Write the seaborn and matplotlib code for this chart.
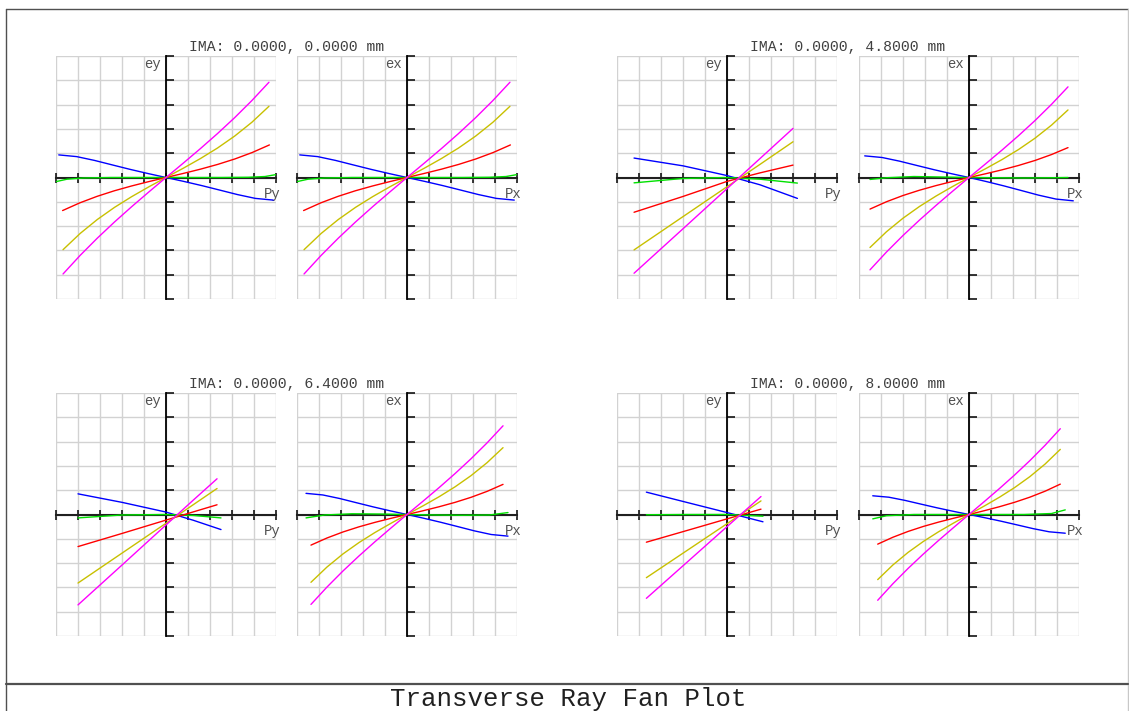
import matplotlib
matplotlib.use("Agg")
import matplotlib.pyplot as plt
import seaborn as sns
import pandas as pd
from matplotlib.lines import Line2D

# ---------------- data (pupil coordinate, ray error in plot divisions) ----------------
WAVES = ["blue", "green", "red", "yellow", "magenta"]
WAVE_COLORS = {"blue": "#0000ff", "green": "#00e000", "red": "#ff0000",
               "yellow": "#c8c000", "magenta": "#ff00ff"}
FIELDS = ["0.0000", "4.8000", "6.4000", "8.0000"]
TAN_AXIS = ("Py", "ey")
SAG_AXIS = ("Px", "ex")
TITLE = "Transverse Ray Fan Plot"

# field 0.0 mm
FAN_T0 = {
    "blue": ([-0.975, -0.8125, -0.65, -0.4875, -0.325, -0.1625, 0, 0.1625, 0.325, 0.4875, 0.65, 0.8125, 0.975],
             [0.93, 0.860, 0.703, 0.517, 0.333, 0.162, 0, -0.162, -0.333, -0.517, -0.703, -0.860, -0.93]),
    "green": ([-1, -0.9, -0.75, -0.5, -0.25, 0, 0.25, 0.5, 0.75, 0.9, 1],
              [-0.17, -0.07, -0.02, 0, 0, 0, 0, 0, 0.01, 0.04, 0.12]),
    "red": ([-0.94, -0.7833, -0.6267, -0.47, -0.3133, -0.1567, 0, 0.1567, 0.3133, 0.47, 0.6267, 0.7833, 0.94],
            [-1.36, -1.043, -0.776, -0.547, -0.349, -0.169, 0, 0.167, 0.343, 0.539, 0.764, 1.028, 1.34]),
    "yellow": ([-0.936, -0.78, -0.624, -0.468, -0.312, -0.156, 0, 0.156, 0.312, 0.468, 0.624, 0.78, 0.936],
               [-2.97, -2.301, -1.727, -1.229, -0.788, -0.384, 0, 0.379, 0.777, 1.212, 1.704, 2.270, 2.93]),
    "magenta": ([-0.936, -0.78, -0.624, -0.468, -0.312, -0.156, 0, 0.156, 0.312, 0.468, 0.624, 0.78, 0.936],
                [-3.97, -3.203, -2.494, -1.830, -1.201, -0.595, 0, 0.587, 1.186, 1.807, 2.462, 3.163, 3.92]),
}
FAN_S0 = FAN_T0  # on axis: sagittal fan equals tangential fan

# field 4.8 mm
FAN_T1 = {
    "blue": ([-0.845, -0.4, 0, 0.3, 0.64], [0.80, 0.48, 0.08, -0.30, -0.86]),
    "green": ([-0.845, -0.4, 0, 0.3, 0.64], [-0.22, -0.04, 0.0, -0.07, -0.23]),
    "red": ([-0.845, -0.4, 0, 0.3, 0.6], [-1.43, -0.78, -0.16, 0.19, 0.51]),
    "yellow": ([-0.845, -0.4, 0, 0.3, 0.6], [-2.98, -1.61, -0.38, 0.54, 1.47]),
    "magenta": ([-0.845, -0.4, 0, 0.3, 0.6], [-3.94, -2.11, -0.46, 0.78, 2.02]),
}
FAN_S1 = {
    "blue": ([-0.948, -0.79, -0.632, -0.474, -0.316, -0.158, 0, 0.158, 0.316, 0.474, 0.632, 0.79, 0.948],
             [0.89, 0.823, 0.673, 0.495, 0.319, 0.155, 0, -0.167, -0.344, -0.534, -0.726, -0.887, -0.96]),
    "green": ([-0.9, -0.75, -0.5, -0.25, 0, 0.25, 0.5, 0.75, 0.9],
              [-0.08, -0.01, 0.04, 0.02, 0, -0.01, -0.02, -0.01, 0.0]),
    "red": ([-0.9, -0.75, -0.6, -0.45, -0.3, -0.15, 0, 0.15, 0.3, 0.45, 0.6, 0.75, 0.9],
            [-1.30, -0.997, -0.741, -0.523, -0.333, -0.162, 0, 0.153, 0.315, 0.495, 0.701, 0.944, 1.23]),
    "yellow": ([-0.9, -0.75, -0.6, -0.45, -0.3, -0.15, 0, 0.15, 0.3, 0.45, 0.6, 0.75, 0.9],
               [-2.88, -2.231, -1.675, -1.192, -0.764, -0.373, 0, 0.360, 0.737, 1.150, 1.617, 2.154, 2.78]),
    "magenta": ([-0.9, -0.75, -0.6, -0.45, -0.3, -0.15, 0, 0.15, 0.3, 0.45, 0.6, 0.75, 0.9],
                [-3.80, -3.066, -2.387, -1.752, -1.150, -0.569, 0, 0.559, 1.128, 1.720, 2.343, 3.010, 3.73]),
}

# field 6.4 mm
FAN_T2 = {
    "blue": ([-0.8, -0.4, 0, 0.25, 0.5], [0.85, 0.50, 0.10, -0.24, -0.62]),
    "green": ([-0.8, -0.4, 0, 0.25, 0.5], [-0.14, -0.02, 0.0, -0.04, -0.14]),
    "red": ([-0.8, -0.4, 0, 0.25, 0.464], [-1.32, -0.78, -0.23, 0.11, 0.40]),
    "yellow": ([-0.8, -0.4, 0, 0.25, 0.464], [-2.82, -1.59, -0.36, 0.41, 1.07]),
    "magenta": ([-0.8, -0.4, 0, 0.25, 0.464], [-3.72, -2.08, -0.43, 0.60, 1.47]),
}
FAN_S2 = {
    "blue": ([-0.918, -0.765, -0.612, -0.459, -0.306, -0.153, 0, 0.153, 0.306, 0.459, 0.612, 0.765, 0.918],
             [0.87, 0.804, 0.658, 0.484, 0.312, 0.151, 0, -0.155, -0.319, -0.495, -0.673, -0.823, -0.89]),
    "green": ([-0.918, -0.75, -0.5, -0.25, 0, 0.25, 0.5, 0.75, 0.918],
              [-0.14, -0.02, 0.03, 0.02, 0, -0.02, -0.03, -0.02, 0.08]),
    "red": ([-0.873, -0.7275, -0.582, -0.4365, -0.291, -0.1455, 0, 0.1455, 0.291, 0.4365, 0.582, 0.7275, 0.873],
            [-1.26, -0.967, -0.719, -0.507, -0.323, -0.157, 0, 0.154, 0.318, 0.499, 0.707, 0.951, 1.24]),
    "yellow": ([-0.873, -0.7275, -0.582, -0.4365, -0.291, -0.1455, 0, 0.1455, 0.291, 0.4365, 0.582, 0.7275, 0.873],
               [-2.79, -2.162, -1.622, -1.155, -0.740, -0.361, 0, 0.356, 0.729, 1.138, 1.599, 2.131, 2.75]),
    "magenta": ([-0.873, -0.7275, -0.582, -0.4365, -0.291, -0.1455, 0, 0.1455, 0.291, 0.4365, 0.582, 0.7275, 0.873],
                [-3.70, -2.986, -2.324, -1.706, -1.119, -0.554, 0, 0.547, 1.104, 1.683, 2.293, 2.945, 3.65]),
}

# field 8.0 mm
FAN_T3 = {
    "blue": ([-0.733, -0.35, 0, 0.327], [0.92, 0.48, 0.08, -0.30]),
    "green": ([-0.733, -0.35, 0, 0.327], [-0.01, 0.0, 0.0, -0.07]),
    "red": ([-0.733, -0.35, 0, 0.309], [-1.14, -0.64, -0.18, 0.22]),
    "yellow": ([-0.733, -0.35, 0, 0.309], [-2.60, -1.44, -0.38, 0.56]),
    "magenta": ([-0.733, -0.35, 0, 0.309], [-3.45, -1.91, -0.50, 0.74]),
}
FAN_S3 = {
    "blue": ([-0.875, -0.7292, -0.5833, -0.4375, -0.2917, -0.1458, 0, 0.1458, 0.2917, 0.4375, 0.5833, 0.7292, 0.875],
             [0.77, 0.712, 0.582, 0.428, 0.276, 0.134, 0, -0.134, -0.276, -0.428, -0.582, -0.712, -0.77]),
    "green": ([-0.875, -0.75, -0.5, -0.25, 0, 0.25, 0.5, 0.75, 0.875],
              [-0.18, -0.05, 0, 0, 0, 0, 0, 0.04, 0.19]),
    "red": ([-0.83, -0.6917, -0.5533, -0.415, -0.2767, -0.1383, 0, 0.1383, 0.2767, 0.415, 0.5533, 0.6917, 0.83],
            [-1.22, -0.936, -0.696, -0.491, -0.313, -0.152, 0, 0.156, 0.320, 0.503, 0.713, 0.959, 1.25]),
    "yellow": ([-0.83, -0.6917, -0.5533, -0.415, -0.2767, -0.1383, 0, 0.1383, 0.2767, 0.415, 0.5533, 0.6917, 0.83],
               [-2.68, -2.076, -1.558, -1.109, -0.711, -0.347, 0, 0.347, 0.711, 1.109, 1.558, 2.076, 2.68]),
    "magenta": ([-0.83, -0.6917, -0.5533, -0.415, -0.2767, -0.1383, 0, 0.1383, 0.2767, 0.415, 0.5533, 0.6917, 0.83],
                [-3.53, -2.848, -2.217, -1.627, -1.068, -0.529, 0, 0.529, 1.068, 1.627, 2.217, 2.848, 3.53]),
}

TAN_FANS = [FAN_T0, FAN_T1, FAN_T2, FAN_T3]
SAG_FANS = [FAN_S0, FAN_S1, FAN_S2, FAN_S3]

# ---------------- styling ----------------
sns.set_theme(style="white")
MONO = ["Liberation Mono", "DejaVu Sans Mono"]
plt.rcParams["font.family"] = MONO

W, H = 1129, 711
fig = plt.figure(figsize=(W / 100, H / 100), dpi=100)
fig.patch.set_facecolor("white")


def fx(px):
    return px / W


def fy(py):
    return 1 - py / H


def frame_line(xs, ys, color, lw):
    fig.add_artist(Line2D([fx(v) for v in xs], [fy(v) for v in ys],
                          transform=fig.transFigure, color=color, lw=lw))


# page frame
frame_line([6, 1128], [9, 9], "#505050", 1.0)
frame_line([6, 6], [9, 712], "#505050", 1.0)
frame_line([1128, 1128], [9, 712], "#c8c8c8", 1.0)
frame_line([6, 1128], [683.5, 683.5], "#505050", 1.6)
fig.text(fx(568), fy(699), TITLE, ha="center", va="center", fontsize=18.5,
         color="#202020", family=MONO)

col_left = [56, 297, 617, 859]
row_top = [56, 393]
pw, ph = 220, 243


def to_frame(fan):
    rows = []
    for w in WAVES:
        xs, ys = fan[w]
        for i, (a, b) in enumerate(zip(xs, ys)):
            rows.append({"pupil": a, "err": b, "wave": w, "order": i})
    return pd.DataFrame(rows)


def draw(ax, fan, labels):
    df = to_frame(fan)
    sns.lineplot(data=df, x="pupil", y="err", hue="wave", hue_order=WAVES,
                 palette=WAVE_COLORS, estimator=None, sort=False, units="wave",
                 legend=False, lw=1.0, ax=ax, zorder=4)
    ax.set_xlim(-1, 1)
    ax.set_ylim(-5, 5)
    ax.set_xticks([i / 5 for i in range(-5, 6)])
    ax.set_yticks(list(range(-5, 6)))
    ax.set_xticklabels([])
    ax.set_yticklabels([])
    ax.set_xlabel("")
    ax.set_ylabel("")
    ax.grid(True, color="#d2d2d2", lw=1.0)
    ax.set_axisbelow(True)
    for s in ("top", "right"):
        ax.spines[s].set_visible(False)
    ax.spines["left"].set_position(("data", 0))
    ax.spines["bottom"].set_position(("data", 0))
    ax.spines["left"].set_color("black")
    ax.spines["bottom"].set_color("#202020")
    ax.spines["left"].set_linewidth(1.3)
    ax.spines["bottom"].set_linewidth(1.5)
    ax.spines["left"].set_zorder(3)
    ax.spines["bottom"].set_zorder(3)
    ax.tick_params(axis="y", which="major", direction="in", length=5.5, width=1.1,
                   color="black", left=True)
    ax.tick_params(axis="x", which="major", direction="inout", length=7, width=1.1,
                   color="black", bottom=True)
    ax.annotate(labels[1], xy=(0, 5), xytext=(-3.5, -1), textcoords="offset points",
                ha="right", va="top", fontsize=10, color="#505050", family=MONO)
    ax.annotate(labels[0], xy=(1, 0), xytext=(3, -7), textcoords="offset points",
                ha="right", va="top", fontsize=10, color="#505050", family=MONO)


for k in range(4):
    r, c = divmod(k, 2)
    top = row_top[r]
    lt = col_left[2 * c]
    ls = col_left[2 * c + 1]
    ax1 = fig.add_axes([fx(lt), fy(top + ph), fx(pw), ph / H])
    ax2 = fig.add_axes([fx(ls), fy(top + ph), fx(pw), ph / H])
    ax1.set_facecolor("none")
    ax2.set_facecolor("none")
    draw(ax1, TAN_FANS[k], TAN_AXIS)
    draw(ax2, SAG_FANS[k], SAG_AXIS)
    cx = (lt + pw + ls) / 2
    fig.text(fx(cx), fy(top - 9), f"IMA: 0.0000, {FIELDS[k]} mm",
             ha="center", va="center", fontsize=10.6, color="#404040", family=MONO)

fig.savefig("out.png", dpi=100, facecolor="white")
